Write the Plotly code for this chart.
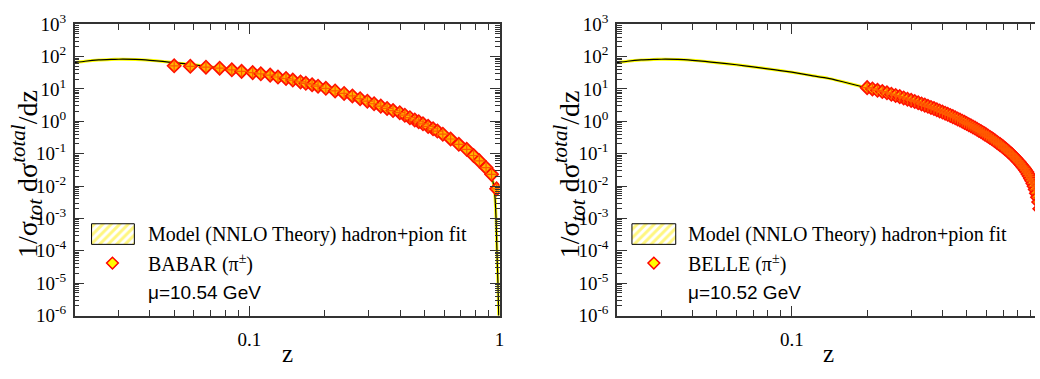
import math
import plotly.graph_objects as go

W, H = 1040, 379

# ---------------- data ----------------
theory_z = [0.02, 0.022, 0.025, 0.028, 0.03, 0.035, 0.04, 0.045, 0.05, 0.06, 0.07, 0.08,
            0.09, 0.1, 0.12, 0.14, 0.15, 0.17, 0.2, 0.25, 0.3, 0.35, 0.4, 0.45, 0.5,
            0.55, 0.6, 0.65, 0.7, 0.75, 0.8, 0.85, 0.9, 0.93, 0.95, 0.96, 0.968,
            0.976, 0.985, 0.992, 0.996]
theory_y = [65, 72, 79, 82, 83, 82, 77, 71, 65, 56, 48, 42,
            37, 33, 26, 21.3, 18.8, 14.8, 10.7, 6.6, 4.0, 2.6, 1.82, 1.18, 0.80,
            0.56, 0.38, 0.26, 0.18, 0.125, 0.08, 0.053, 0.033, 0.019, 0.009, 0.004, 1e-3,
            1e-4, 1e-5, 1e-6, 1e-7]

babar_z = [0.05, 0.058, 0.067, 0.076, 0.085, 0.093, 0.103, 0.111, 0.121, 0.130, 0.140,
           0.149, 0.160, 0.168, 0.178, 0.188, 0.202, 0.220, 0.239, 0.258, 0.277, 0.296,
           0.315, 0.335, 0.355, 0.375, 0.399, 0.418, 0.438, 0.458, 0.475, 0.494, 0.518,
           0.542, 0.564, 0.593, 0.637, 0.687, 0.739, 0.787, 0.830, 0.883, 0.929, 0.973]
babar_y = [52, 50, 47, 44, 39, 35, 32, 29.4, 26.8, 23.4, 21.1,
           18.8, 16.5, 15.0, 13.5, 12.2, 10.5, 8.7, 7.3, 6.1, 5.0, 4.2,
           3.5, 2.95, 2.5, 2.15, 1.85, 1.55, 1.3, 1.1, 0.97, 0.84, 0.70,
           0.59, 0.50, 0.40, 0.285, 0.195, 0.137, 0.088, 0.060, 0.037, 0.023, 0.0082]

belle_z = [0.20, 0.21, 0.22, 0.23, 0.24, 0.25, 0.26, 0.27, 0.28, 0.29,
           0.30, 0.31, 0.32, 0.33, 0.34, 0.35, 0.36, 0.37, 0.38, 0.39,
           0.40, 0.41, 0.42, 0.43, 0.44, 0.45, 0.46, 0.47, 0.48, 0.49,
           0.50, 0.51, 0.52, 0.53, 0.54, 0.55, 0.56, 0.57, 0.58, 0.59,
           0.60, 0.61, 0.62, 0.63, 0.64, 0.65, 0.66, 0.67, 0.68, 0.69,
           0.70, 0.71, 0.72, 0.73, 0.74, 0.75, 0.76, 0.77, 0.78, 0.79,
           0.80, 0.81, 0.82, 0.83, 0.84, 0.85, 0.86, 0.87, 0.88, 0.89,
           0.90, 0.91, 0.92, 0.93, 0.94, 0.95, 0.96, 0.97, 0.98]
belle_y = [11.0, 10.0, 9.1, 8.3, 7.6, 6.9, 6.3, 5.8, 5.3, 4.85,
           4.45, 4.1, 3.75, 3.45, 3.17, 2.92, 2.69, 2.48, 2.28, 2.10,
           1.94, 1.79, 1.65, 1.52, 1.40, 1.29, 1.19, 1.10, 1.01, 0.93,
           0.86, 0.79, 0.73, 0.67, 0.62, 0.57, 0.525, 0.485, 0.445, 0.41,
           0.377, 0.347, 0.319, 0.293, 0.269, 0.247, 0.227, 0.208, 0.191, 0.175,
           0.160, 0.146, 0.134, 0.122, 0.111, 0.101, 0.092, 0.083, 0.075, 0.068,
           0.061, 0.055, 0.049, 0.044, 0.039, 0.035, 0.031, 0.027, 0.023, 0.020,
           0.017, 0.0145, 0.012, 0.0098, 0.0078, 0.006, 0.0045, 0.0032, 0.002]

y_tick_vals = [1e-6, 1e-5, 1e-4, 1e-3, 1e-2, 1e-1, 1e0, 1e1, 1e2, 1e3]
y_tick_text = ["10<sup>-6</sup>", "10<sup>-5</sup>", "10<sup>-4</sup>", "10<sup>-3</sup>",
               "10<sup>-2</sup>", "10<sup>-1</sup>", "10<sup>0</sup>", "10<sup>1</sup>",
               "10<sup>2</sup>", "10<sup>3</sup>"]
x_tick_vals = [0.1, 1]
x_tick_text = ["0.1", "1"]

legend_model = "Model (NNLO Theory) hadron+pion fit"
legend_babar = "BABAR (π<sup>±</sup>)"
legend_belle = "BELLE (π<sup>±</sup>)"
scale_babar = "μ=10.54 GeV"
scale_belle = "μ=10.52 GeV"
ytitle = ("1/σ<sub><span style='font-size:21px'><i>tot</i></span></sub> "
          "dσ<sup><span style='font-size:21px'><i>total</i></span></sup>/dz")

# ---------------- geometry (pixels) ----------------
L_X0, L_X1 = 75, 502
R_X0 = 620
Y_TOP, Y_BOT = 12, 323
ZMIN = 0.02
dec_px = (L_X1 - L_X0) / (0 - math.log10(ZMIN))
right_hi = math.log10(ZMIN) + (W - R_X0) / dec_px

SERIF = "Liberation Serif, Times New Roman, serif"
SANS = "Liberation Sans, Arial, sans-serif"
AX = "#333333"

x_minor = [k * 10 ** d for d in (-2, -1) for k in range(2, 10)]
y_minor = [k * 10 ** d for d in range(-6, 3) for k in range(2, 10)]


def px_x(p):
    return p / W


def px_y(p):
    return 1 - p / H


def xcfg(x0, x1, rng):
    return dict(type="log", domain=[px_x(x0), min(1, px_x(x1))], range=rng,
                tickmode="array", tickvals=x_tick_vals, ticktext=x_tick_text,
                ticks="inside", ticklen=10, tickwidth=1, tickcolor=AX,
                showline=True, linecolor=AX, linewidth=1.5, mirror="ticks",
                showgrid=False, zeroline=False, ticklabelstandoff=6,
                ticklabeloverflow="allow",
                tickfont=dict(family=SERIF, size=19, color="black"),
                minor=dict(tickvals=x_minor, ticks="inside", ticklen=6,
                           tickcolor=AX, tickwidth=1, showgrid=False))


def ycfg(mirror):
    return dict(type="log", domain=[px_y(Y_BOT), px_y(Y_TOP)], range=[-6, 3],
                tickmode="array", tickvals=y_tick_vals, ticktext=y_tick_text,
                ticks="inside", ticklen=10, tickwidth=1, tickcolor=AX,
                showline=True, linecolor=AX, linewidth=1.5, mirror=mirror,
                showgrid=False, zeroline=False, ticklabelstandoff=3,
                ticklabeloverflow="allow",
                tickfont=dict(family=SERIF, size=19, color="black"),
                minor=dict(tickvals=y_minor, ticks="inside", ticklen=5,
                           tickcolor=AX, tickwidth=1, showgrid=False))


fig = go.Figure()


def add_panel(xa, ya, dz, dy):
    fig.add_trace(go.Scatter(x=theory_z, y=theory_y, mode="lines", xaxis=xa, yaxis=ya,
                             line=dict(color="#ffff00", width=3, shape="spline", smoothing=0.4),
                             hoverinfo="skip", showlegend=False))
    fig.add_trace(go.Scatter(x=theory_z, y=theory_y, mode="lines", xaxis=xa, yaxis=ya,
                             line=dict(color="black", width=1.2, shape="spline", smoothing=0.4),
                             showlegend=False))
    fig.add_trace(go.Scatter(x=dz, y=dy, mode="markers", xaxis=xa, yaxis=ya,
                             marker=dict(symbol="diamond", size=10, color="#ffb400",
                                         line=dict(color="#ff1000", width=1.8)),
                             showlegend=False))
    fig.add_trace(go.Scatter(x=dz, y=dy, mode="markers", xaxis=xa, yaxis=ya,
                             marker=dict(symbol="cross-thin", size=8,
                                         line=dict(color="#ff5a00", width=1.2)),
                             hoverinfo="skip", showlegend=False))


add_panel("x", "y", babar_z, babar_y)
add_panel("x2", "y2", belle_z, belle_y)

# legend swatches on a pixel overlay axis
ann = []
for (bx0, bx1, mx, tx, lab, scale) in [(92, 135, 113, 147, legend_babar, scale_babar),
                                        (635, 679, 657, 689, legend_belle, scale_belle)]:
    fig.add_trace(go.Scatter(x=[bx0, bx1, bx1, bx0, bx0], y=[225, 225, 247, 247, 225],
                             mode="lines", fill="toself", xaxis="x3", yaxis="y3",
                             fillcolor="white",
                             fillpattern=dict(shape="/", fgcolor="#ffee00", bgcolor="white",
                                              size=6, solidity=0.5),
                             line=dict(color="black", width=1), hoverinfo="skip",
                             showlegend=False))
    fig.add_trace(go.Scatter(x=[mx], y=[267], mode="markers", xaxis="x3", yaxis="y3",
                             marker=dict(symbol="diamond", size=9, color="#ffff00",
                                         line=dict(color="#ff0000", width=1.5)),
                             hoverinfo="skip", showlegend=False))
    ann.append(dict(x=px_x(tx), y=px_y(237), xref="paper", yref="paper", text=legend_model,
                    showarrow=False, xanchor="left", yanchor="middle",
                    font=dict(family=SERIF, size=20, color="black")))
    ann.append(dict(x=px_x(tx), y=px_y(267), xref="paper", yref="paper", text=lab,
                    showarrow=False, xanchor="left", yanchor="middle",
                    font=dict(family=SERIF, size=20, color="black")))
    ann.append(dict(x=px_x(tx), y=px_y(298), xref="paper", yref="paper", text=scale,
                    showarrow=False, xanchor="left", yanchor="middle",
                    font=dict(family=SANS, size=19, color="black")))

for cx in (27, 572):
    ann.append(dict(x=px_x(cx), y=px_y(172), xref="paper", yref="paper", text=ytitle,
                    textangle=-90, showarrow=False, xanchor="center", yanchor="middle",
                    font=dict(family=SERIF, size=28, color="black")))
for cx in (288.5, 833):
    ann.append(dict(x=px_x(cx), y=px_y(364), xref="paper", yref="paper", text="z",
                    showarrow=False, xanchor="center", yanchor="middle",
                    font=dict(family=SERIF, size=25, color="black")))

fig.update_layout(
    width=W, height=H, margin=dict(l=0, r=0, t=0, b=0),
    paper_bgcolor="white", plot_bgcolor="rgba(0,0,0,0)",
    showlegend=False, annotations=ann,
    xaxis=dict(xcfg(L_X0, L_X1, [math.log10(ZMIN), 0]), anchor="y"),
    yaxis=dict(ycfg("ticks"), anchor="x"),
    xaxis2=dict(xcfg(R_X0, W, [math.log10(ZMIN), right_hi]), anchor="y2"),
    yaxis2=dict(ycfg(False), anchor="x2"),
    xaxis3=dict(domain=[0, 1], range=[0, W], visible=False, anchor="y3", fixedrange=True),
    yaxis3=dict(domain=[0, 1], range=[H, 0], visible=False, anchor="x3", fixedrange=True),
)

fig.write_html("out.html")
